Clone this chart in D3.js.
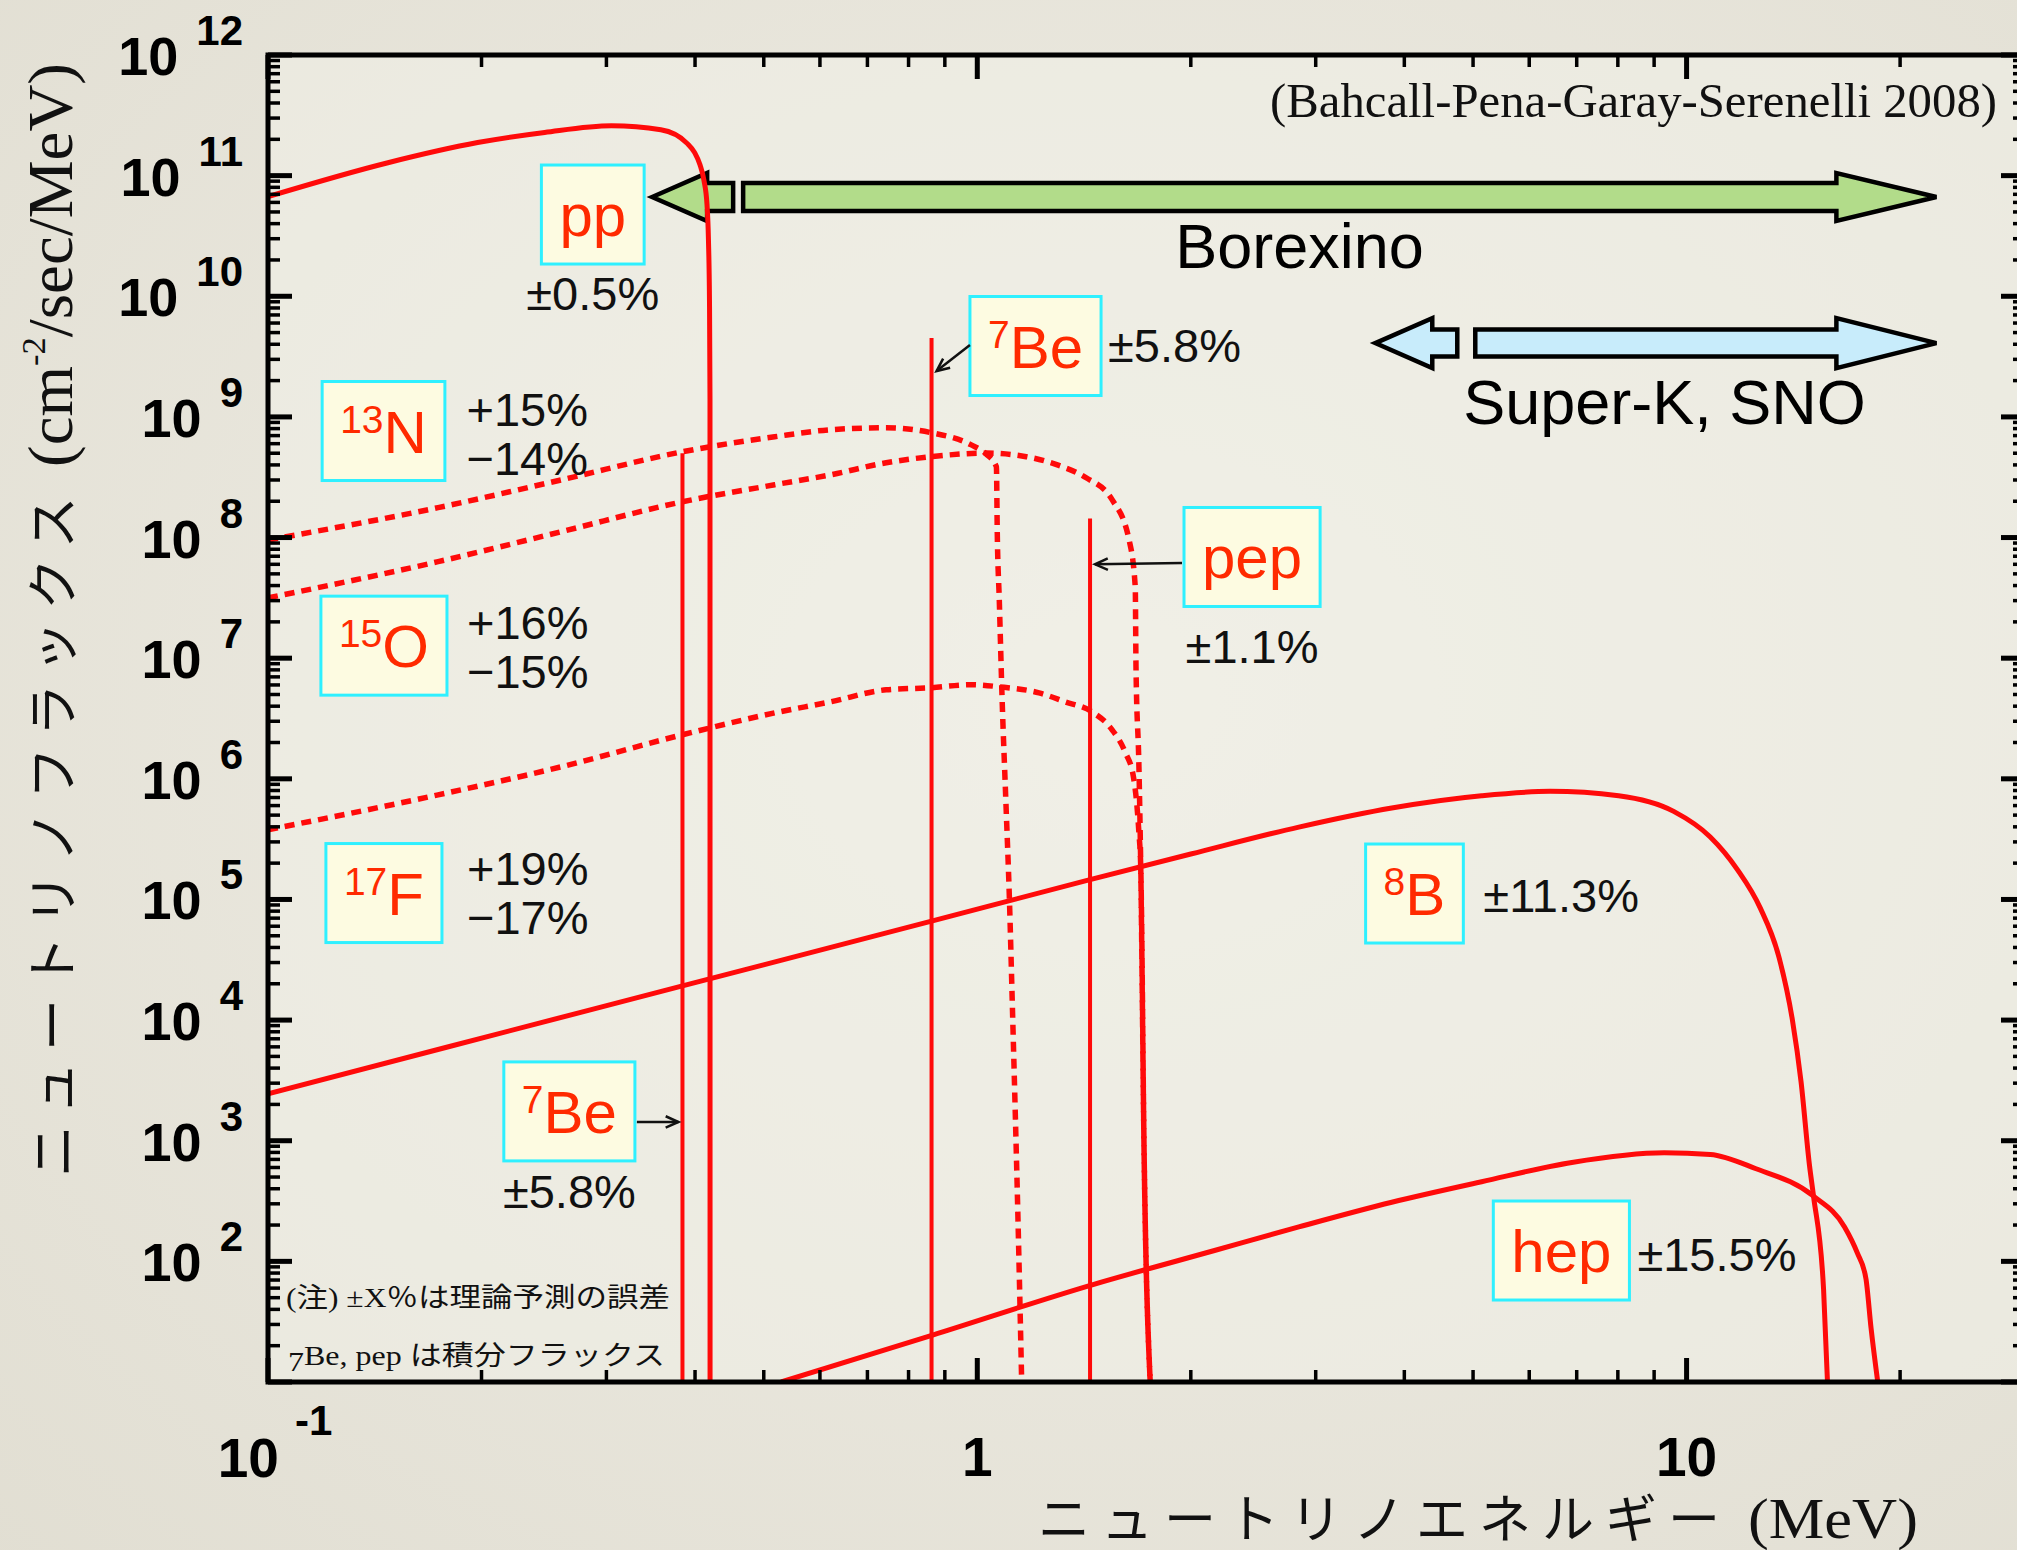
<!DOCTYPE html>
<html>
<head>
<meta charset="utf-8">
<script src="https://cdn.jsdelivr.net/npm/d3@7"></script>
<style>
  html, body { margin: 0; padding: 0; background: #e8e5da; overflow: hidden; }
  svg { display: block; }
</style>
</head>
<body>
<svg id="chart" width="2017" height="1550"></svg>
<script>
// Solar neutrino energy spectra (standard solar model, BPS08)

// ---- data ----
const energyDomain = [0.1, 30];          // MeV
const fluxDomain = [10, 1e12];           // cm^-2 s^-1 MeV^-1

// continuum spectra: [energy (MeV), flux]
const ppSpectrum = [
  [0.100, 6.70e10], [0.1476, 1.28e11], [0.1975, 1.88e11], [0.2455, 2.28e11],
  [0.305, 2.59e11], [0.358, 2.40e11], [0.3895, 1.86e11], [0.3995, 1.55e11],
  [0.4065, 1.23e11], [0.4118, 9.1e10], [0.4158, 5.8e10], [0.4178, 2.95e10],
  [0.4192, 9.3e9], [0.4199, 1.4e9], [0.4200, 10]
];
const n13Spectrum = [
  [0.100, 9.55e7], [0.1737, 1.77e8], [0.2594, 3.01e8], [0.384, 5.14e8],
  [0.518, 6.85e8], [0.621, 7.83e8], [0.744, 8.13e8], [0.860, 7.41e8],
  [0.979, 5.89e8], [1.030, 4.90e8], [1.064, 3.86e8], [1.067, 1.10e8],
  [1.074, 3.05e7], [1.084, 4.52e6], [1.097, 6.70e5], [1.110, 9.93e4],
  [1.120, 1.48e4], [1.144, 123], [1.155, 10]
];
const o15Spectrum = [
  [0.100, 3.16e7], [0.1737, 6.31e7], [0.2594, 1.12e8], [0.384, 1.98e8],
  [0.518, 2.74e8], [0.621, 3.31e8], [0.744, 4.17e8], [0.860, 4.68e8],
  [1.030, 5.01e8], [1.172, 4.68e8], [1.300, 3.98e8], [1.424, 3.13e8],
  [1.549, 2.06e8], [1.637, 9.55e7], [1.670, 3.89e7], [1.674, 8.51e6],
  [1.690, 1.26e6], [1.700, 1.86e5], [1.719, 724], [1.753, 10]
];
const f17Spectrum = [
  [0.100, 3.78e5], [0.1737, 7.36e5], [0.2594, 1.26e6], [0.384, 2.32e6],
  [0.518, 3.52e6], [0.621, 4.35e6], [0.744, 5.47e6], [0.860, 5.69e6],
  [0.979, 6.03e6], [1.074, 5.79e6], [1.222, 5.16e6], [1.330, 4.35e6],
  [1.450, 3.60e6], [1.549, 2.55e6], [1.618, 1.64e6], [1.660, 1.04e6],
  [1.690, 3.55e5], [1.700, 1.86e5], [1.719, 724], [1.753, 10]
];
const b8Spectrum = [
  [0.100, 2.45e3], [0.178, 5.93e3], [0.384, 1.92e4], [0.862, 6.61e4],
  [1.442, 1.46e5], [2.00, 2.38e5], [2.84, 3.98e5], [3.84, 5.73e5],
  [5.14, 7.24e5], [6.42, 7.87e5], [8.02, 7.24e5], [9.59, 5.37e5],
  [10.79, 3.31e5], [11.8, 1.76e5], [12.7, 8.51e4], [13.5, 3.31e4],
  [14.1, 1.00e4], [14.5, 3.09e3], [14.9, 631], [15.1, 347],
  [15.6, 58.9], [15.8, 10]
];
const hepSpectrum = [
  [0.529, 10], [0.865, 24.5], [1.44, 63], [2.16, 123], [2.84, 193],
  [3.84, 309], [5.14, 457], [6.89, 661], [9.3, 794], [10.8, 769],
  [12.5, 589], [15.1, 347], [16.7, 193], [17.4, 118], [17.9, 72],
  [18.2, 28], [18.6, 10]
];
const solidSpectra = [ppSpectrum, b8Spectrum, hepSpectrum];
const dottedSpectra = [n13Spectrum, o15Spectrum, f17Spectrum];

// monoenergetic lines (integrated flux, cm^-2 s^-1)
const lineEnergies = [0.384, 0.862, 1.442];
const lineFluxes = [5.0e8, 4.5e9, 1.44e8];

// source labels
const labelSup = ["", "7", "13", "15", "17", "7", "", "8", ""];
const labelMain = ["pp", "Be", "N", "O", "F", "Be", "pep", "B", "hep"];
const labelErrors = [["±0.5%"], ["±5.8%"], ["+15%", "−14%"], ["+16%", "−15%"],
  ["+19%", "−17%"], ["±5.8%"], ["±1.1%"], ["±11.3%"], ["±15.5%"]];
const labelEnergy = [0.287, 1.208, 0.1455, 0.1457, 0.1457, 0.266, 2.44, 4.134, 6.66];
const labelFlux = [4.76e10, 3.87e9, 7.64e8, 1.27e7, 1.13e5, 1.75e3, 6.9e7, 1.12e5, 123];

// detector sensitivity ranges
const detectorNames = ["Borexino", "Super-K, SNO"];
const detectorRanges = [[0.348, 22.5], [3.64, 22.5]];
const detectorFlux = [6.65e10, 4.09e9];
const detectorLabelEnergy = [2.846, 9.31];

// axis ticks
const yTickPowers = [2, 3, 4, 5, 6, 7, 8, 9, 10, 11, 12];
const xTickLabels = ["1", "10"];
const tickMultipliers = [1, 2, 3, 4, 5, 6, 7, 8, 9];

// ---- layout ----
const W = 2017, H = 1550;
const plot = { left: 268, right: 2025, top: 55, bottom: 1382 };
const RED = "#ff0a0a", LABEL_RED = "#ff2a00";
const SANS = "'Liberation Sans', Arial, Helvetica, sans-serif";
const SERIF = "'Liberation Serif', 'Times New Roman', serif";
const JP = "'Liberation Serif', 'Noto Sans CJK JP', serif";

const x = d3.scaleLog().domain(energyDomain).range([plot.left, plot.right]);
const y = d3.scaleLog().domain(fluxDomain).range([plot.bottom, plot.top]);

const svg = d3.select("#chart");
const defs = svg.append("defs");

const grad = defs.append("radialGradient").attr("id", "paper")
  .attr("cx", "55%").attr("cy", "45%").attr("r", "80%");
grad.append("stop").attr("offset", "0%").attr("stop-color", "#f0eee6");
grad.append("stop").attr("offset", "100%").attr("stop-color", "#e1ded2");

defs.append("clipPath").attr("id", "plotClip").append("rect")
  .attr("x", plot.left).attr("y", plot.top)
  .attr("width", plot.right - plot.left).attr("height", plot.bottom - plot.top);

svg.append("rect").attr("width", W).attr("height", H).attr("fill", "url(#paper)");
svg.append("rect")
  .attr("x", plot.left).attr("y", plot.top)
  .attr("width", plot.right - plot.left).attr("height", plot.bottom - plot.top)
  .attr("fill", "#f1f0e7").attr("opacity", 0.55);

// ---- detector range arrows ----
const detColors = ["#b2dc8a", "#c8ecfb"];
const detGeom = [
  { headL: 55, stub: 26, gap: 10, headR: 100, bar: 14, head: 24, textDy: 71 },
  { headL: 57, stub: 25, gap: 18, headR: 100, bar: 13.5, head: 25, textDy: 81 }
];
const detLayer = svg.append("g");
detectorNames.forEach((name, i) => {
  const g = detGeom[i];
  const xl = x(detectorRanges[i][0]), xr = x(detectorRanges[i][1]);
  const cy = y(detectorFlux[i]);
  const a = xl + g.headL, b = a + g.stub, c = b + g.gap, d = xr - g.headR;
  const left = d3.path();
  left.moveTo(xl, cy); left.lineTo(a, cy - g.head); left.lineTo(a, cy - g.bar);
  left.lineTo(b, cy - g.bar); left.lineTo(b, cy + g.bar); left.lineTo(a, cy + g.bar);
  left.lineTo(a, cy + g.head); left.closePath();
  const right = d3.path();
  right.moveTo(c, cy - g.bar); right.lineTo(d, cy - g.bar); right.lineTo(d, cy - g.head);
  right.lineTo(xr, cy); right.lineTo(d, cy + g.head); right.lineTo(d, cy + g.bar);
  right.lineTo(c, cy + g.bar); right.closePath();
  [left, right].forEach(p => detLayer.append("path").attr("d", p.toString())
    .attr("fill", detColors[i]).attr("stroke", "#000").attr("stroke-width", 4.5)
    .attr("stroke-linejoin", "miter"));
  detLayer.append("text")
    .attr("x", x(detectorLabelEnergy[i])).attr("y", cy + g.textDy)
    .attr("text-anchor", "middle").attr("font-family", SANS).attr("font-size", 63)
    .attr("fill", "#000").text(name);
});

// ---- spectra ----
const curveLayer = svg.append("g").attr("clip-path", "url(#plotClip)");
const lineGen = d3.line().x(d => x(d[0])).y(d => y(d[1])).curve(d3.curveMonotoneX);

curveLayer.selectAll("path.dotted").data(dottedSpectra).join("path")
  .attr("class", "dotted").attr("d", lineGen)
  .attr("fill", "none").attr("stroke", RED).attr("stroke-width", 5.5)
  .attr("stroke-dasharray", "10,7");

curveLayer.selectAll("line.mono").data(lineEnergies).join("line")
  .attr("class", "mono")
  .attr("x1", d => x(d)).attr("x2", d => x(d))
  .attr("y1", y(fluxDomain[0])).attr("y2", (d, i) => y(lineFluxes[i]))
  .attr("stroke", RED).attr("stroke-width", 4);

curveLayer.selectAll("path.solid").data(solidSpectra).join("path")
  .attr("class", "solid").attr("d", lineGen)
  .attr("fill", "none").attr("stroke", RED).attr("stroke-width", 5)
  .attr("stroke-linejoin", "round");

// ---- source labels ----
const labelLayer = svg.append("g");
const boxes = [];
labelMain.forEach((main, i) => {
  const cx = x(labelEnergy[i]), cy = y(labelFlux[i]);
  const g = labelLayer.append("g");
  const rect = g.append("rect");
  const t = g.append("text").attr("x", cx).attr("y", cy + 21.5)
    .attr("text-anchor", "middle").attr("font-family", SANS).attr("fill", LABEL_RED);
  if (labelSup[i]) {
    t.append("tspan").attr("font-size", 39).attr("dy", -20).text(labelSup[i]);
    t.append("tspan").attr("font-size", 60).attr("dy", 20).text(main);
  } else {
    t.append("tspan").attr("font-size", 60).text(main);
  }
  const bb = t.node().getBBox();
  const w = bb.width + 36, h = 99;
  rect.attr("x", cx - w / 2).attr("y", cy - h / 2).attr("width", w).attr("height", h)
    .attr("fill", "#fdfbe1").attr("stroke", "#2ff0ff").attr("stroke-width", 3);
  boxes.push({ cx, cy, l: cx - w / 2, r: cx + w / 2, t: cy - h / 2, b: cy + h / 2 });
});

// uncertainty texts
const errPlace = [
  { mode: "below", dy: 95.5 }, { mode: "right", dx: 7, dy: 16 },
  { mode: "pair", dx: 83, dy: -5 }, { mode: "pair", dx: 83, dy: -7 },
  { mode: "pair", dx: 83, dy: -8 }, { mode: "below", dy: 97 },
  { mode: "below", dy: 106 }, { mode: "right", dx: 20, dy: 18.5 },
  { mode: "right", dx: 8, dy: 20.5 }
];
labelErrors.forEach((lines, i) => {
  const bx = boxes[i], p = errPlace[i];
  lines.forEach((s, k) => {
    const t = labelLayer.append("text").attr("font-family", SANS)
      .attr("font-size", 47).attr("fill", "#111").text(s);
    if (p.mode === "below") {
      t.attr("x", bx.cx).attr("y", bx.cy + p.dy).attr("text-anchor", "middle");
    } else if (p.mode === "right") {
      t.attr("x", bx.r + p.dx).attr("y", bx.cy + p.dy);
    } else {
      t.attr("x", bx.cx + p.dx).attr("y", bx.cy + p.dy + k * 49);
    }
  });
});

// pointer arrows from labels to lines
function pointer(x1, y1, x2, y2) {
  const a = Math.atan2(y2 - y1, x2 - x1), L = 14, s = 0.42;
  labelLayer.append("line").attr("x1", x1).attr("y1", y1).attr("x2", x2).attr("y2", y2)
    .attr("stroke", "#111").attr("stroke-width", 2.5);
  labelLayer.append("path")
    .attr("d", `M${x2 - L * Math.cos(a - s)},${y2 - L * Math.sin(a - s)}L${x2},${y2}L${x2 - L * Math.cos(a + s)},${y2 - L * Math.sin(a + s)}`)
    .attr("fill", "none").attr("stroke", "#111").attr("stroke-width", 2.5);
}
pointer(boxes[1].l, boxes[1].cy - 1, x(lineEnergies[1]) + 5, y(2.4e9));
pointer(boxes[6].l - 2, boxes[6].cy + 6, x(lineEnergies[2]) + 5, y(6.0e7));
pointer(boxes[5].r + 2, boxes[5].cy + 10.5, x(lineEnergies[0]) - 4, y(1.43e3));

// ---- axes: frame with inward log ticks on all four sides ----
function decadeTicks(domain) {
  const lo = Math.round(Math.log10(domain[0])), hi = Math.floor(Math.log10(domain[1]));
  const out = [];
  for (let p = lo; p <= hi; p++) {
    for (const k of tickMultipliers) {
      const v = k * Math.pow(10, p);
      if (v >= domain[0] * 0.999 && v <= domain[1] * 1.001) out.push({ v, major: k === 1 });
    }
  }
  return out;
}
const yTicks = decadeTicks(fluxDomain), xTicks = decadeTicks(energyDomain);
const tickLen = t => t.major ? 24 : 12;
const tickW = t => t.major ? 5 : 3.5;
const axisLayer = svg.append("g").attr("stroke", "#000");

axisLayer.selectAll("line.yl").data(yTicks).join("line").attr("class", "yl")
  .attr("x1", plot.left).attr("x2", t => plot.left + tickLen(t))
  .attr("y1", t => y(t.v)).attr("y2", t => y(t.v)).attr("stroke-width", tickW);
axisLayer.selectAll("line.yr").data(yTicks).join("line").attr("class", "yr")
  .attr("x1", plot.right).attr("x2", t => plot.right - tickLen(t))
  .attr("y1", t => y(t.v)).attr("y2", t => y(t.v)).attr("stroke-width", tickW);
axisLayer.selectAll("line.xb").data(xTicks).join("line").attr("class", "xb")
  .attr("y1", plot.bottom).attr("y2", t => plot.bottom - tickLen(t))
  .attr("x1", t => x(t.v)).attr("x2", t => x(t.v)).attr("stroke-width", tickW);
axisLayer.selectAll("line.xt").data(xTicks).join("line").attr("class", "xt")
  .attr("y1", plot.top).attr("y2", t => plot.top + tickLen(t))
  .attr("x1", t => x(t.v)).attr("x2", t => x(t.v)).attr("stroke-width", tickW);

svg.append("rect")
  .attr("x", plot.left).attr("y", plot.top)
  .attr("width", plot.right - plot.left).attr("height", plot.bottom - plot.top)
  .attr("fill", "none").attr("stroke", "#000").attr("stroke-width", 5);

// y tick labels: 10^n
yTickPowers.forEach(p => {
  const ty = y(Math.pow(10, p));
  const t = svg.append("text").attr("x", 243).attr("y", ty + 20)
    .attr("text-anchor", "end").attr("font-family", SANS).attr("font-weight", "bold")
    .attr("fill", "#000");
  t.append("tspan").attr("font-size", 54).text("10");
  t.append("tspan").attr("font-size", 42).attr("dx", 18).attr("dy", -30).text(String(p));
});

// x tick labels
(function () {
  const t = svg.append("text").attr("x", x(energyDomain[0]) + 7).attr("y", 1477)
    .attr("text-anchor", "middle").attr("font-family", SANS).attr("font-weight", "bold");
  t.append("tspan").attr("font-size", 55).text("10");
  t.append("tspan").attr("font-size", 42).attr("dx", 16).attr("dy", -42).text("-1");
  xTickLabels.forEach(s => svg.append("text").attr("x", x(+s)).attr("y", 1476)
    .attr("text-anchor", "middle").attr("font-family", SANS).attr("font-weight", "bold")
    .attr("font-size", 55).text(s));
})();

// ---- titles and notes ----
svg.append("text").attr("x", 1038).attr("y", 1538)
  .attr("font-family", JP).attr("font-size", 52).attr("letter-spacing", 11)
  .attr("fill", "#111").text("ニュートリノエネルギー");
svg.append("text").attr("x", 1748).attr("y", 1538)
  .attr("font-family", SERIF).attr("font-size", 56).attr("textLength", 170)
  .attr("lengthAdjust", "spacingAndGlyphs").attr("fill", "#111").text("(MeV)");

const yTitle = svg.append("g").attr("transform", "translate(72,0) rotate(-90)");
yTitle.append("text").attr("x", -1177).attr("y", 0)
  .attr("font-family", JP).attr("font-size", 52).attr("letter-spacing", 11)
  .attr("fill", "#111").text("ニュートリノフラックス");
(function () {
  const t = yTitle.append("text").attr("x", -467).attr("y", 0)
    .attr("font-family", SERIF).attr("font-size", 64).attr("fill", "#111")
    .attr("textLength", 404).attr("lengthAdjust", "spacingAndGlyphs");
  t.append("tspan").text("(cm");
  t.append("tspan").attr("font-size", 34).attr("dy", -27).text("-2");
  t.append("tspan").attr("dy", 27).text("/sec/MeV)");
})();

svg.append("text").attr("x", 1270).attr("y", 117)
  .attr("font-family", SERIF).attr("font-size", 48).attr("fill", "#111")
  .attr("textLength", 727).attr("lengthAdjust", "spacingAndGlyphs")
  .text("(Bahcall-Pena-Garay-Serenelli 2008)");

svg.append("text").attr("x", 286).attr("y", 1307)
  .attr("font-family", JP).attr("font-size", 27).attr("fill", "#111")
  .attr("textLength", 384).attr("lengthAdjust", "spacingAndGlyphs")
  .text("(注) ±X％は理論予測の誤差");
(function () {
  const t = svg.append("text").attr("x", 288).attr("y", 1365)
    .attr("font-family", JP).attr("font-size", 27).attr("fill", "#111")
    .attr("textLength", 377).attr("lengthAdjust", "spacingAndGlyphs");
  t.append("tspan").attr("dy", 6).text("7");
  t.append("tspan").attr("dy", -6).text("Be, pep は積分フラックス");
})();
</script>
</body>
</html>
